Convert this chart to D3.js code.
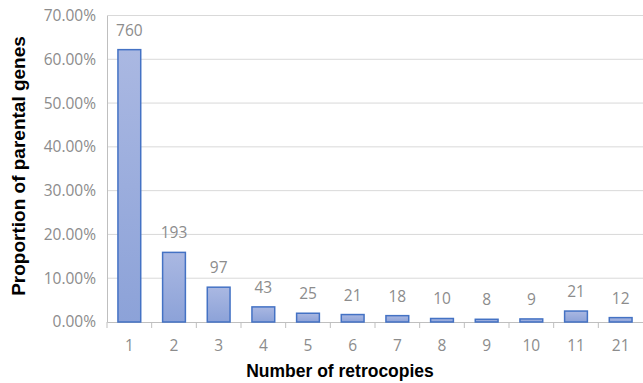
<!DOCTYPE html>
<html><head><meta charset="utf-8">
<script src="https://cdn.jsdelivr.net/npm/d3@7"></script>
<style>body{margin:0;background:#fff}</style>
</head><body><svg id="c" width="643" height="383"></svg>
<script>
const categories = ["1","2","3","4","5","6","7","8","9","10","11","21"];
const counts = [760,193,97,43,25,21,18,10,8,9,21,12];
const proportions = [62.2,15.9,7.95,3.45,2.0,1.7,1.45,0.8,0.62,0.7,2.5,1.0];
const yTicks = [0,10,20,30,40,50,60,70];

const svg = d3.select("#c");
const m = {left:107, right:0, top:15.5, bottom:61};
const W = 643, H = 383;
const x = d3.scaleBand().domain(categories).range([m.left, W - m.right]).paddingInner(0.49).paddingOuter(0.245);
const xb = d3.scaleBand().domain(categories).range([m.left, W - m.right]);
const y = d3.scaleLinear().domain([0,70]).range([H - m.bottom, m.top]);

const defs = svg.append("defs");
const g = defs.append("linearGradient").attr("id","bg").attr("x1",0).attr("y1",0).attr("x2",0).attr("y2",1);
g.append("stop").attr("offset","0%").attr("stop-color","#aab8e2");
g.append("stop").attr("offset","100%").attr("stop-color","#8ca2d8");

const lblFont = "'Open Sans', sans-serif";
const lblColor = "#8c8c8c";

// gridlines
svg.append("g").selectAll("line").data(yTicks.filter(d=>d>0)).join("line")
  .attr("x1", m.left).attr("x2", W - m.right)
  .attr("y1", d=>y(d)).attr("y2", d=>y(d))
  .attr("stroke","#d9d9d9").attr("stroke-width",1);

// y axis
const ya = svg.append("g").attr("transform",`translate(${m.left},0)`)
  .call(d3.axisLeft(y).tickValues(yTicks).tickSize(0).tickPadding(11).tickFormat(d=>d.toFixed(2)+"%"));
ya.select(".domain").attr("stroke","#bfbfbf");
ya.selectAll("text").attr("fill",lblColor).style("font-family",lblFont).style("font-size","15.5px");

// x axis
const xa = svg.append("g").attr("transform",`translate(0,${H - m.bottom})`)
  .call(d3.axisBottom(xb).tickSize(0).tickPadding(18));
xa.select(".domain").attr("stroke","#bfbfbf");
xa.selectAll("text").attr("fill",lblColor).style("font-family",lblFont).style("font-size","15.5px");
// tick marks between categories
svg.append("g").selectAll("line").data(categories).join("line")
  .attr("x1", d=>xb(d)).attr("x2", d=>xb(d))
  .attr("y1", H - m.bottom).attr("y2", H - m.bottom + 6)
  .attr("stroke","#bfbfbf");

// bars
svg.append("g").selectAll("rect").data(categories).join("rect")
  .attr("x", d=>x(d)).attr("width", x.bandwidth())
  .attr("y", (d,i)=>y(proportions[i]))
  .attr("height", (d,i)=>y(0)-y(proportions[i]))
  .attr("fill","url(#bg)").attr("stroke","#4472c4").attr("stroke-width",1.5);

// data labels
svg.append("g").selectAll("text").data(categories).join("text")
  .attr("x", d=>x(d)+x.bandwidth()/2)
  .attr("y", (d,i)=>y(proportions[i]) - 14)
  .attr("text-anchor","middle")
  .attr("fill",lblColor).style("font-family",lblFont).style("font-size","15.5px")
  .text((d,i)=>counts[i]);

// axis titles
svg.append("text").attr("x", 340).attr("y", 377).attr("text-anchor","middle")
  .style("font-family","'Liberation Sans', Arial, sans-serif").style("font-weight","bold").style("font-size","17.5px")
  .attr("fill","#000").text("Number of retrocopies");
svg.append("text").attr("transform","translate(25,166) rotate(-90)").attr("text-anchor","middle")
  .style("font-family","'Liberation Sans', Arial, sans-serif").style("font-weight","bold").style("font-size","19px")
  .attr("fill","#000").text("Proportion of parental genes");
</script></body></html>
